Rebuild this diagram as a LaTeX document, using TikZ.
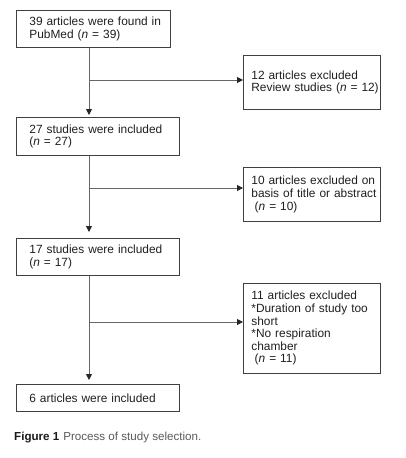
\documentclass[tikz,border=0pt]{standalone}
\usepackage{fontspec}
\setmainfont{Liberation Sans}
\usetikzlibrary{arrows.meta}
\begin{document}
\begin{tikzpicture}[x=1pt,y=-1pt,
  box/.style={draw=black!75, line width=0.8pt, anchor=north west, inner ysep=0pt,
    align=left, text=black!88, font=\fontsize{11.9pt}{12.6pt}\selectfont},
  lbox/.style={box, inner xsep=13pt},
  rbox/.style={box, inner xsep=8pt, text width=121pt, minimum height=54pt},
  conn/.style={draw=black!60, line width=1pt,
    -{Triangle[length=6pt,width=6pt,color=black!85]}}]
\useasboundingbox (0,0) rectangle (406,458);
\node[lbox, text width=128pt, minimum height=37pt] (n1) at (16,10)
  {\mbox{39 articles were found in}\\PubMed (\textit{n} = 39)};
\node[rbox] (n2) at (243,55)
  {\mbox{12 articles excluded}\\\mbox{Review studies (\textit{n} = 12)}};
\node[lbox, text width=137pt, minimum height=38pt] (n3) at (16,117)
  {27 studies were included\\(\textit{n} = 27)};
\node[rbox] (n4) at (243,167)
  {\mbox{10 articles excluded on}\\\mbox{basis of title or abstract}\\\hspace*{0.28em}(\textit{n} = 10)};
\node[lbox, text width=137pt, minimum height=37pt] (n5) at (16,238)
  {17 studies were included\\(\textit{n} = 17)};
\node[rbox, minimum height=90pt] (n6) at (243,283)
  {\mbox{11 articles excluded}\\{}\mbox{*Duration of study too}\\{}short\\{}*No respiration\\{}chamber\\{}\hspace*{0.28em}(\textit{n} = 11)};
\node[lbox, text width=137pt, minimum height=27pt] (n7) at (16,384)
  {6 articles were included};
\node[anchor=base west, inner sep=0pt, text=black!90, font=\fontsize{11.6pt}{13pt}\selectfont] (cap) at (14,440)
  {\textbf{Figure 1}\hspace{0.35em}{\color{black!65}Process of study selection.}};
\coordinate (tx) at (89,0);
\coordinate (b1) at (89,80);
\coordinate (b2) at (89,188);
\coordinate (b3) at (89,322);
\draw[conn] (n1.south -| tx) -- ([yshift=2pt]n3.north -| tx);
\draw[conn] (n3.south -| tx) -- ([yshift=6pt]n5.north -| tx);
\draw[conn] (n5.south -| tx) -- ([yshift=4pt]n7.north -| tx);
\draw[conn] (b1) -- (b1 -| n2.west);
\draw[conn] (b2) -- (b2 -| n4.west);
\draw[conn] (b3) -- (b3 -| n6.west);
\end{tikzpicture}
\end{document}
